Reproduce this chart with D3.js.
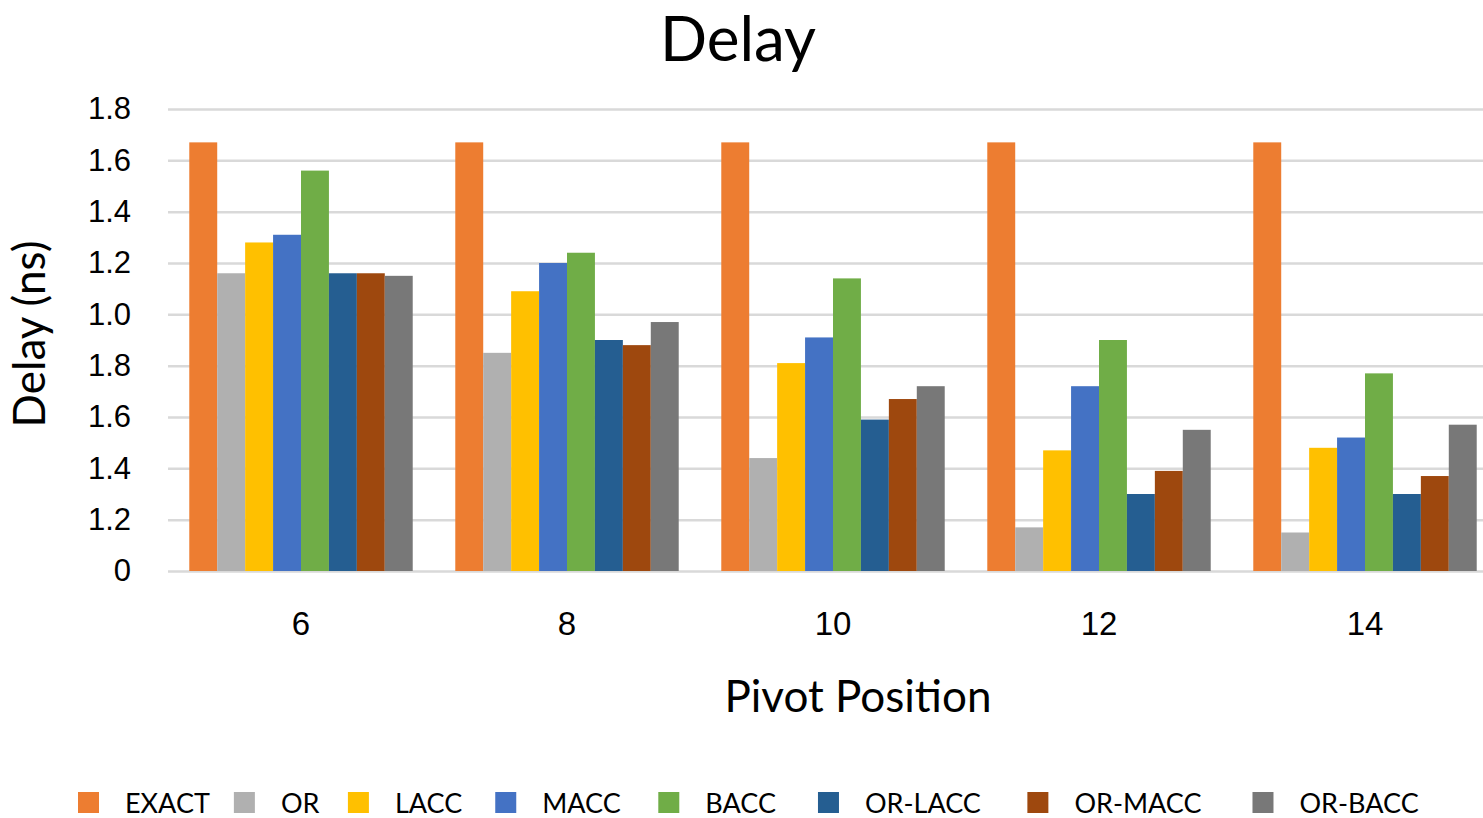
<!DOCTYPE html>
<html>
<head>
<meta charset="utf-8">
<script src="https://cdn.jsdelivr.net/npm/d3@7"></script>
<style>
  body { margin: 0; background: #fff; }
  svg { display: block; font-family: Lato, "Open Sans", sans-serif; }
</style>
</head>
<body>
<svg id="chart"></svg>
<script>
const positions = ["6", "8", "10", "12", "14"];
const seriesNames = ["EXACT", "OR", "LACC", "MACC", "BACC", "OR-LACC", "OR-MACC", "OR-BACC"];
const seriesColors = ["#ED7D31", "#B0B0B0", "#FFC000", "#4472C4", "#70AD47", "#255E91", "#9E480E", "#787878"];

// one array per series, values for pivot positions 6..14
const exact  = [1.67, 1.67, 1.67, 1.67, 1.67];
const orVal  = [1.16, 0.85, 0.44, 0.17, 0.15];
const lacc   = [1.28, 1.09, 0.81, 0.47, 0.48];
const macc   = [1.31, 1.20, 0.91, 0.72, 0.52];
const bacc   = [1.56, 1.24, 1.14, 0.90, 0.77];
const orLacc = [1.16, 0.90, 0.59, 0.30, 0.30];
const orMacc = [1.16, 0.88, 0.67, 0.39, 0.37];
const orBacc = [1.15, 0.97, 0.72, 0.55, 0.57];

// tick labels exactly as printed on the original axis
const yTickValues = [0, 0.2, 0.4, 0.6, 0.8, 1.0, 1.2, 1.4, 1.6, 1.8];
const yTickLabels = ["0", "1.2", "1.4", "1.6", "1.8", "1.0", "1.2", "1.4", "1.6", "1.8"];

const allSeries = [exact, orVal, lacc, macc, bacc, orLacc, orMacc, orBacc];

const width = 1483, height = 818;
const svg = d3.select("#chart")
    .attr("width", width)
    .attr("height", height)
    .attr("viewBox", `0 0 ${width} ${height}`);

const x = d3.scaleBand()
    .domain(positions)
    .range([168, 1498])
    .paddingInner(0.16)
    .paddingOuter(0.08);

const xInner = d3.scaleBand()
    .domain(seriesNames)
    .range([0, x.bandwidth()]);

const y = d3.scaleLinear().domain([0, 1.8]).range([571, 109]);

// gridlines
const yAxis = d3.axisLeft(y)
    .tickValues(yTickValues)
    .tickSize(-(width - 168))
    .tickFormat((d, i) => yTickLabels[i]);

const gy = svg.append("g")
    .attr("transform", "translate(168,0)")
    .call(yAxis);
gy.select(".domain").remove();
gy.selectAll(".tick line")
    .attr("stroke", "#D9D9D9")
    .attr("stroke-width", 2.5);
gy.selectAll(".tick text")
    .attr("x", -37)
    .attr("fill", "#000")
    .style("font-size", "31px");

// bars
const groups = svg.append("g")
    .selectAll("g")
    .data(positions)
    .join("g")
    .attr("transform", d => `translate(${x(d)},0)`);

groups.selectAll("rect")
    .data((d, gi) => seriesNames.map((s, si) => ({ series: s, color: seriesColors[si], value: allSeries[si][gi] })))
    .join("rect")
    .attr("x", d => xInner(d.series))
    .attr("width", xInner.bandwidth())
    .attr("y", d => y(d.value))
    .attr("height", d => y(0) - y(d.value))
    .attr("fill", d => d.color);

// x axis labels
const xAxis = d3.axisBottom(x).tickSize(0).tickPadding(0);
const gx = svg.append("g")
    .attr("transform", "translate(0,571)")
    .call(xAxis);
gx.select(".domain").remove();
gx.selectAll(".tick text")
    .attr("y", 64)
    .attr("dy", 0)
    .attr("fill", "#000")
    .style("font-size", "33px");

// titles
svg.append("text")
    .attr("x", 738)
    .attr("y", 61)
    .attr("text-anchor", "middle")
    .style("font-size", "62px")
    .text("Delay");

svg.append("text")
    .attr("transform", "translate(45,334) rotate(-90)")
    .attr("text-anchor", "middle")
    .style("font-size", "44px")
    .text("Delay (ns)");

svg.append("text")
    .attr("x", 858)
    .attr("y", 712)
    .attr("text-anchor", "middle")
    .style("font-size", "44px")
    .text("Pivot Position");

// legend
const legend = svg.append("g").attr("transform", "translate(78,803)");
let cursor = 0;
seriesNames.forEach((name, i) => {
    const item = legend.append("g").attr("transform", `translate(${cursor},0)`);
    item.append("rect")
        .attr("x", 0)
        .attr("y", -11)
        .attr("width", 21)
        .attr("height", 21)
        .attr("fill", seriesColors[i]);
    const t = item.append("text")
        .attr("x", 47)
        .attr("y", 10)
        .style("font-size", "27px")
        .text(name);
    cursor += 47 + t.node().getComputedTextLength() + 24 + 4.5 * i;
});
</script>
</body>
</html>
